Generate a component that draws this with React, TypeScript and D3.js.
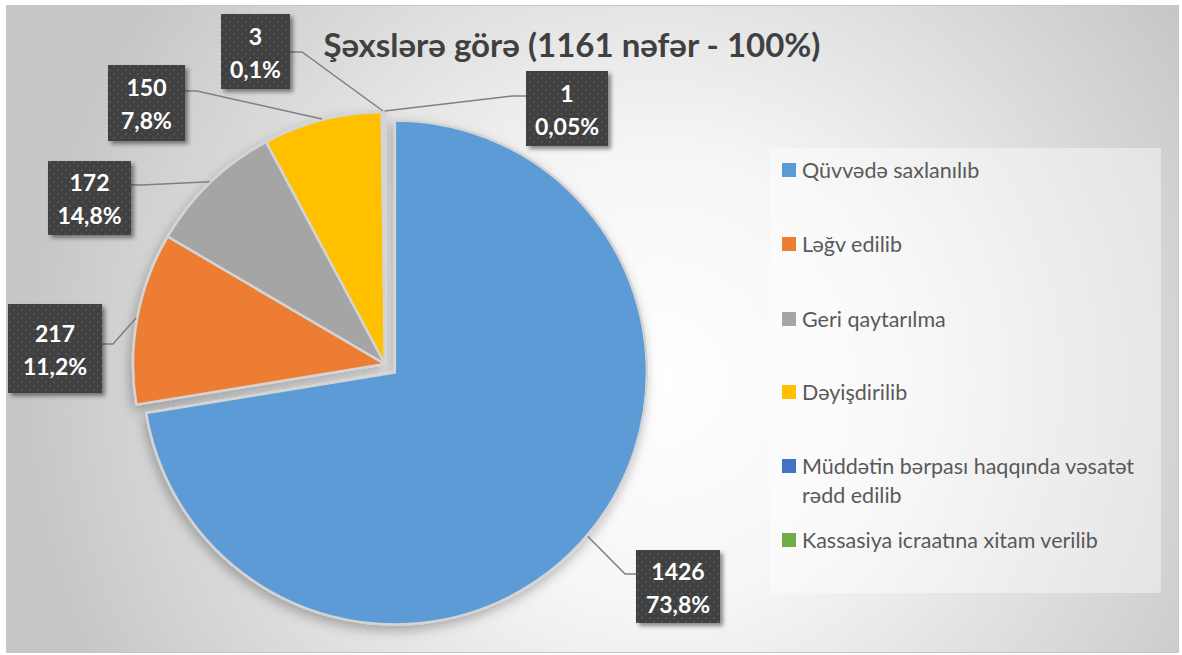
import React from "react";
import * as d3 from "d3";

const categories = [
  "Qüvvədə saxlanılıb",
  "Ləğv edilib",
  "Geri qaytarılma",
  "Dəyişdirilib",
  "Müddətin bərpası haqqında vəsatət rədd edilib",
  "Kassasiya icraatına xitam verilib",
];
const values = [1426, 217, 172, 150, 3, 1];
const pctLabels = ["73,8%", "11,2%", "14,8%", "7,8%", "0,1%", "0,05%"];
const colors = ["#5b9bd5", "#ed7d31", "#a5a5a5", "#ffc000", "#4472c4", "#70ad47"];
const title = "Şəxslərə görə (1161 nəfər - 100%)";

// manual label placement (like Excel's dragged labels)
const labelBoxes = [
  { x: 636, y: 550, w: 84, h: 73, side: "left", lineY: 574, elbowX: 625 },
  { x: 8, y: 304, w: 94, h: 89, side: "right", lineY: 344, elbowX: 113 },
  { x: 48, y: 161, w: 83, h: 74, side: "right", lineY: 185, elbowX: 142 },
  { x: 108, y: 65, w: 77, h: 76, side: "right", lineY: 91, elbowX: 197 },
  { x: 221, y: 14, w: 69, h: 75, side: "right", lineY: 52, elbowX: 302 },
  { x: 526, y: 71, w: 82, h: 75, side: "left", lineY: 96, elbowX: 513 },
];

const W = 1182;
const H = 655;
const cx = 385;
const cy = 364;
const R = 252;
const explode = 13;

const font = "Lato, 'Open Sans', sans-serif";

export default function App() {
  const pie = d3.pie<number>().sort(null).value((d) => d);
  const arcs = pie(values);
  const arc = d3.arc<d3.PieArcDatum<number>>().innerRadius(0).outerRadius(R);

  const offsetOf = (i: number) => {
    if (i !== 0) return [0, 0];
    const a = (arcs[i].startAngle + arcs[i].endAngle) / 2;
    return [explode * Math.sin(a), -explode * Math.cos(a)];
  };

  const legendY = [170, 244, 319, 392, 466, 540];

  return (
    <div style={{ position: "absolute", left: 0, top: 0 }}>
      <svg width={W} height={H} style={{ display: "block" }}>
        <defs>
          <radialGradient id="bg" gradientUnits="userSpaceOnUse" cx={660} cy={380} r={640}>
            <stop offset="0" stopColor="#ffffff" />
            <stop offset="0.35" stopColor="#f6f6f6" />
            <stop offset="1" stopColor="#c6c6c6" />
          </radialGradient>
          <filter id="pieShadow" x="-20%" y="-20%" width="140%" height="140%">
            <feDropShadow dx="-2" dy="5" stdDeviation="6" floodColor="#000" floodOpacity="0.28" />
          </filter>
          <filter id="boxShadow" x="-20%" y="-20%" width="140%" height="140%">
            <feDropShadow dx="3" dy="3" stdDeviation="2" floodColor="#000" floodOpacity="0.45" />
          </filter>
          <pattern id="dots" width="8" height="8" patternUnits="userSpaceOnUse">
            <rect width="8" height="8" fill="#404040" />
            <circle cx="2" cy="2" r="0.9" fill="#5a5a5a" />
            <circle cx="6" cy="6" r="0.9" fill="#5a5a5a" />
          </pattern>
        </defs>

        <rect x={0} y={0} width={W} height={H} fill="#ffffff" />
        <rect x={6.5} y={5.5} width={1172} height={647} fill="url(#bg)" stroke="#c8c8c8" strokeWidth={1} />

        <text
          x={572}
          y={57}
          textAnchor="middle"
          fontFamily={font}
          fontWeight="bold"
          fontSize={33}
          fill="#404040"
        >
          {title}
        </text>

        {/* pie */}
        <g filter="url(#pieShadow)">
          {arcs.map((a, i) => {
            const [dx, dy] = offsetOf(i);
            return (
              <path
                key={i}
                d={arc(a) || ""}
                transform={`translate(${cx + dx},${cy + dy})`}
                fill={colors[i]}
                stroke="#d4d4d4"
                strokeWidth={2.5}
                strokeLinejoin="round"
              />
            );
          })}
        </g>

        {/* leader lines */}
        {arcs.map((a, i) => {
          const [dx, dy] = offsetOf(i);
          const mid = (a.startAngle + a.endAngle) / 2;
          const ax = cx + dx + (R + 1) * Math.sin(mid);
          const ay = cy + dy - (R + 1) * Math.cos(mid);
          const b = labelBoxes[i];
          const sx = b.side === "left" ? b.x : b.x + b.w;
          const line = d3.line()([
            [sx, b.lineY],
            [b.elbowX, b.lineY],
            [ax, ay],
          ]);
          return <path key={i} d={line || ""} fill="none" stroke="#7f7f7f" strokeWidth={1.5} />;
        })}

        {/* data labels */}
        {labelBoxes.map((b, i) => (
          <g key={i}>
            <rect x={b.x} y={b.y} width={b.w} height={b.h} fill="url(#dots)" filter="url(#boxShadow)" />
            <text
              x={b.x + b.w / 2}
              textAnchor="middle"
              fontFamily={font}
              fontWeight="bold"
              fontSize={23}
              fill="#ffffff"
            >
              <tspan x={b.x + b.w / 2} y={b.y + b.h / 2 - 16} dominantBaseline="central">
                {values[i]}
              </tspan>
              <tspan x={b.x + b.w / 2} y={b.y + b.h / 2 + 17} dominantBaseline="central">
                {pctLabels[i]}
              </tspan>
            </text>
          </g>
        ))}

        {/* legend */}
        <rect x={770} y={148} width={391} height={445} fill="#ffffff" fillOpacity={0.42} />
        {categories.map((c, i) => {
          const y = legendY[i];
          const lines = i === 4 ? ["Müddətin bərpası haqqında vəsatət", "rədd edilib"] : [c];
          return (
            <g key={c}>
              <rect x={782} y={y - 7} width={14} height={14} fill={colors[i]} />
              {lines.map((l, j) => (
                <text
                  key={j}
                  x={802}
                  y={y + j * 29}
                  dominantBaseline="central"
                  fontFamily={font}
                  fontSize={21.5}
                  fill="#595959"
                >
                  {l}
                </text>
              ))}
            </g>
          );
        })}
      </svg>
    </div>
  );
}
